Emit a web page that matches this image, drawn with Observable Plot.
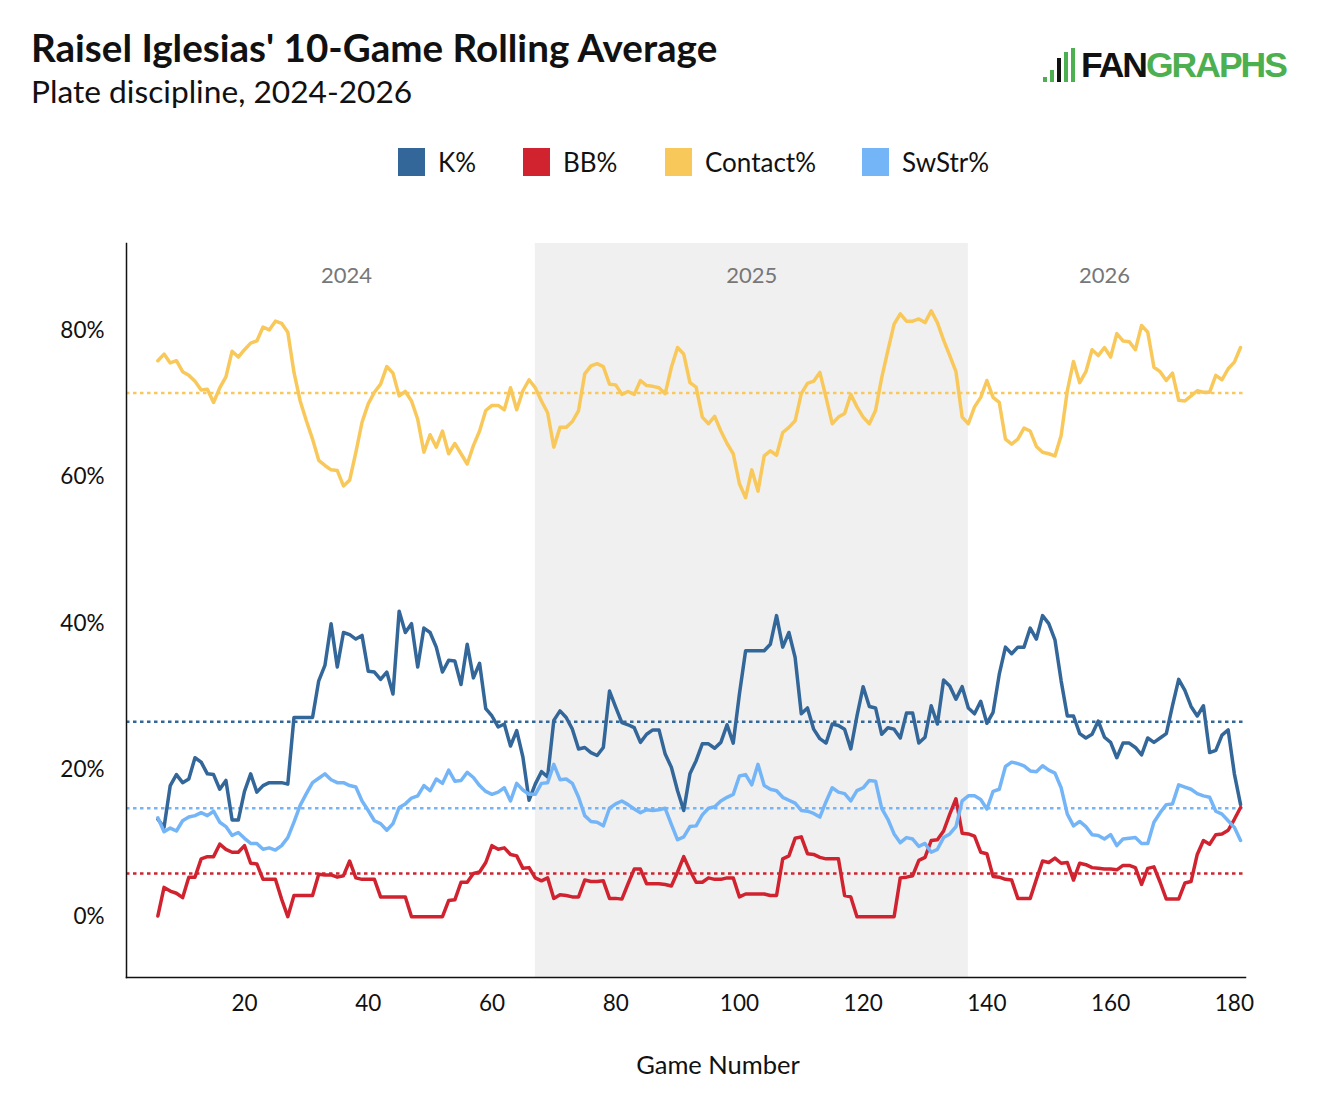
<!DOCTYPE html>
<html><head><meta charset="utf-8">
<script src="https://cdn.jsdelivr.net/npm/d3@7"></script>
<script src="https://cdn.jsdelivr.net/npm/@observablehq/plot@0.6"></script>
<style>
body{margin:0;background:#fff;font-family:Lato,sans-serif;}
#wrap{position:relative;width:1318px;height:1107px;overflow:hidden;}
#title{position:absolute;left:31px;top:25px;font-size:38.6px;font-weight:700;color:#111;white-space:nowrap;line-height:44px;}
#subtitle{position:absolute;left:31px;top:72px;font-size:31.7px;color:#111;white-space:nowrap;line-height:38px;}
#logo{position:absolute;left:1043px;top:40px;height:42px;display:flex;align-items:flex-end;}
#logo .bars{display:flex;align-items:flex-end;gap:3px;margin-right:6px;height:34px;}
#logo .bars span{display:block;width:4px;background:#4caf50;}
#logo .word{font-family:"Liberation Sans",Arial,sans-serif;font-weight:700;font-size:35.5px;letter-spacing:-2px;line-height:34px;}
#legend{position:absolute;top:148px;left:0;width:1318px;height:30px;}
.li{position:absolute;top:0;display:flex;align-items:center;font-size:26px;color:#111;height:28px;}
.li .sw{width:27px;height:28px;margin-right:13px;}
#chart{position:absolute;left:0;top:200px;}
</style></head>
<body><div id="wrap">
<div id="title">Raisel Iglesias' 10-Game Rolling Average</div>
<div id="subtitle">Plate discipline, 2024-2026</div>
<div id="logo"><div class="bars"><span style="height:5px"></span><span style="height:12px"></span><span style="height:24px;background:#111"></span><span style="height:30px"></span><span style="height:34px"></span></div><div class="word"><span style="color:#111">FAN</span><span style="color:#4caf50">GRAPHS</span></div></div>
<div id="legend"></div>
<div id="chart"></div>
</div>
<script>
// Game numbers 6..181
const firstGame = 6;
const seriesNames = ["K%", "BB%", "Contact%", "SwStr%"];
const seriesColors = ["#336699", "#d0232f", "#f9c85b", "#74b5f8"];
const yTicks = [0, 20, 40, 60, 80];
const xTicks = [20, 40, 60, 80, 100, 120, 140, 160, 180];
const seasons = ["2024", "2025", "2026"];
const seasonStart = [6, 67, 137];
const seasonEnd = [67, 137, 181];
const averages = [26.6, 5.9, 71.5, 14.8];

const kPct = [13.3,12.2,17.9,19.4,18.3,18.8,21.7,21.1,19.5,19.4,17.4,18.6,13.2,13.2,17.1,19.5,17.0,17.9,18.3,18.3,18.3,18.1,27.2,27.2,27.2,27.2,32.2,34.3,40.0,34.1,38.8,38.5,37.9,38.4,33.5,33.4,32.4,33.4,30.4,41.7,38.8,40.0,34.1,39.4,38.8,36.8,33.4,35.0,34.9,31.7,37.2,32.6,34.6,28.4,27.4,25.9,26.3,23.3,25.4,21.8,15.9,18.1,19.8,19.1,26.8,28.1,27.2,25.6,22.9,23.1,22.4,22.0,23.1,30.8,28.6,26.5,26.2,25.8,23.8,24.9,25.5,25.5,22.2,20.4,17.2,14.5,19.5,21.3,23.6,23.6,23.0,23.8,26.2,23.7,30.4,36.3,36.3,36.3,36.3,37.2,41.1,36.8,38.8,35.4,27.7,28.5,25.6,24.3,23.7,26.3,26.1,25.6,22.9,27.4,31.4,28.7,28.5,24.9,25.8,25.6,24.4,27.8,27.8,23.7,24.5,28.8,26.3,32.3,31.5,29.7,31.4,28.5,27.7,29.4,26.4,27.9,33.1,36.8,35.9,36.8,36.8,39.4,37.9,41.1,40.0,37.8,32.2,27.4,27.4,25.0,24.4,24.9,26.7,24.5,23.8,21.7,23.7,23.7,23.1,22.1,24.4,23.8,24.4,25.0,28.8,32.4,30.9,28.7,27.4,28.8,22.4,22.7,24.8,25.5,19.5,15.3];

const bbPct = [0.1,4.0,3.5,3.2,2.6,5.4,5.4,7.9,8.2,8.2,9.9,9.2,8.8,8.8,9.7,7.3,7.2,5.1,5.1,5.1,2.4,0,2.9,2.9,2.9,2.9,5.8,5.7,5.7,5.4,5.6,7.6,5.3,5.1,5.1,5.1,2.7,2.7,2.7,2.7,2.7,0,0,0,0,0,0,2.2,2.3,4.7,4.7,5.9,6.1,7.4,9.7,9.2,9.4,8.5,8.3,6.6,6.7,5.3,4.9,5.3,2.5,3.0,2.9,2.7,2.7,5.0,4.8,4.8,4.9,2.5,2.5,2.4,4.5,6.5,6.5,4.5,4.5,4.5,4.4,4.2,6.1,8.2,6.3,4.7,4.7,5.3,5.1,5.1,5.3,5.3,2.7,3.1,3.1,3.1,3.1,2.9,2.9,7.9,8.3,10.7,10.9,8.6,8.5,8.1,7.9,7.9,7.9,2.9,2.7,0,0,0,0,0,0,0,5.3,5.4,5.6,7.7,8.1,10.4,10.5,11.7,14.0,16.1,11.4,11.3,11.0,8.8,8.6,5.5,5.4,5.1,5.0,2.5,2.5,2.5,5.1,7.6,7.4,8.0,7.3,7.4,5.0,7.3,7.1,6.7,6.6,6.5,6.5,6.4,7.0,7.0,6.7,4.4,6.6,6.8,4.7,2.4,2.4,2.4,4.6,4.8,8.5,10.4,9.9,11.2,11.3,11.8,13.3,14.9];

const contactPct = [75.9,76.8,75.6,75.9,74.4,73.9,73.1,71.9,72.0,70.2,72.2,73.7,77.2,76.4,77.4,78.3,78.6,80.5,80.1,81.3,81.0,79.8,74.3,70.4,67.7,65.2,62.3,61.6,61.0,60.9,58.8,59.6,63.4,67.5,70.0,71.6,72.7,75.1,74.2,71.1,71.7,70.4,67.9,63.4,65.8,64.1,66.3,63.2,64.6,63.2,61.8,64.3,66.3,69.1,69.8,69.8,69.2,72.2,69.2,71.8,73.3,72.2,70.4,68.8,64.1,66.8,66.8,67.6,69.1,74.1,75.2,75.5,75.1,72.7,72.6,71.3,71.7,71.3,73.2,72.5,72.4,72.2,71.4,75.0,77.7,76.8,72.9,72.3,68.2,67.3,68.3,66.3,64.6,63.2,59.1,57.2,61.0,58.1,62.9,63.6,63.0,66.1,66.8,67.7,71.4,72.8,73.1,74.3,70.9,67.3,68.2,68.7,71.3,69.6,68.2,67.3,69.1,73.6,77.3,80.9,82.3,81.3,81.3,81.6,81.1,82.7,81.1,78.7,76.6,74.4,68.2,67.3,69.6,70.9,73.2,70.9,70.2,65.2,64.5,65.2,66.7,66.3,64.2,63.4,63.2,62.9,65.7,71.8,75.8,72.9,74.4,77.4,76.6,77.7,76.4,79.6,78.6,78.5,77.4,80.7,79.8,75.0,74.4,73.2,74.2,70.5,70.4,71.1,71.8,71.6,71.6,73.9,73.3,74.8,75.7,77.7];

const swStrPct = [13.5,11.6,12.1,11.7,13.1,13.6,13.8,14.2,13.8,14.4,12.9,12.3,11.1,11.5,10.7,10.0,10.0,9.2,9.4,9.1,9.7,10.8,12.9,15.2,16.8,18.3,18.9,19.5,18.7,18.3,18.3,17.9,17.7,15.8,14.5,13.1,12.7,11.8,12.7,14.9,15.4,16.2,16.5,17.9,17.2,18.8,18.2,20.0,18.5,18.6,19.7,19.0,17.9,17.1,16.7,17.0,17.6,15.8,18.2,17.3,16.7,16.7,18.2,18.3,20.8,18.7,18.8,18.2,16.3,13.8,13.0,12.9,12.4,14.8,15.4,15.8,15.3,14.7,14.2,14.6,14.5,14.6,14.8,12.6,10.5,10.9,12.3,12.4,13.9,14.8,15.0,15.8,16.3,16.7,19.2,19.4,18.0,20.8,17.9,17.4,17.2,16.3,15.9,15.5,14.5,14.4,14.1,13.6,15.7,17.6,17.0,16.8,15.8,17.2,17.6,18.6,18.5,14.8,13.3,11.3,10.1,10.8,10.6,9.6,10.0,8.8,9.2,10.8,11.3,12.3,15.8,16.5,16.5,16.0,14.7,17.1,17.4,20.5,21.1,20.9,20.6,19.9,19.8,20.6,20.0,19.6,17.6,14.0,12.4,13.0,12.3,11.2,11.1,10.6,11.2,9.7,10.6,10.7,10.8,10.0,10.0,12.9,14.2,15.3,15.4,18.0,17.7,17.4,16.8,16.5,16.3,14.4,14.0,13.1,12.2,10.4];

const seriesValues = [kPct, bbPct, contactPct, swStrPct];

// Build tidy rows
const rows = [];
seriesNames.forEach((name, s) => {
  seriesValues[s].forEach((v, i) => rows.push({game: firstGame + i, value: v, series: name}));
});
const avgRows = seriesNames.map((name, i) => ({series: name, value: averages[i]}));
const seasonRows = seasons.map((s, i) => ({season: s, start: seasonStart[i], end: seasonEnd[i]}));

// Legend
const legend = document.getElementById("legend");
const legendX = [398, 523, 665, 862];
seriesNames.forEach((n, i) => {
  const d = document.createElement("div");
  d.className = "li";
  d.style.left = legendX[i] + "px";
  d.innerHTML = `<div class="sw" style="background:${seriesColors[i]}"></div><span>${n}</span>`;
  legend.appendChild(d);
});

const chart = Plot.plot({
  width: 1318,
  height: 890,
  marginLeft: 126,
  marginRight: 73,
  marginTop: 43,
  marginBottom: 113,
  style: {fontFamily: "Lato, sans-serif", fontSize: "22.5px", color: "#111", background: "transparent"},
  x: {domain: [0.93, 181.8], ticks: xTicks, tickSize: 0, tickPadding: 18, label: null},
  y: {domain: [-8.3, 91.9], ticks: yTicks, tickFormat: d => d + "%", tickSize: 0, tickPadding: 22, label: null},
  color: {domain: seriesNames, range: seriesColors},
  marks: [
    Plot.rect(seasonRows.filter(d => d.season === "2025"), {x1: "start", x2: "end", fill: "#f0f0f0"}),
    Plot.text(seasonRows, {x: d => (d.start + d.end) / 2, text: "season", frameAnchor: "top", lineAnchor: "middle", dy: 32, fill: "#777", fontSize: 22}),
    Plot.ruleY(avgRows, {y: "value", stroke: "series", strokeWidth: 2.5, strokeDasharray: "3.5,3.5"}),
    Plot.line(rows, {x: "game", y: "value", z: "series", stroke: "series", strokeWidth: 3.5, strokeLinejoin: "round"}),
    Plot.frame({anchor: "left", stroke: "#111", strokeWidth: 1.5}),
    Plot.frame({anchor: "bottom", stroke: "#111", strokeWidth: 1.5}),
    Plot.text(["Game Number"], {text: d => d, frameAnchor: "bottom", dx: 32, dy: 88, fontSize: 25.5, fill: "#111", lineAnchor: "middle"})
  ]
});
document.getElementById("chart").appendChild(chart);
</script>
</body></html>
